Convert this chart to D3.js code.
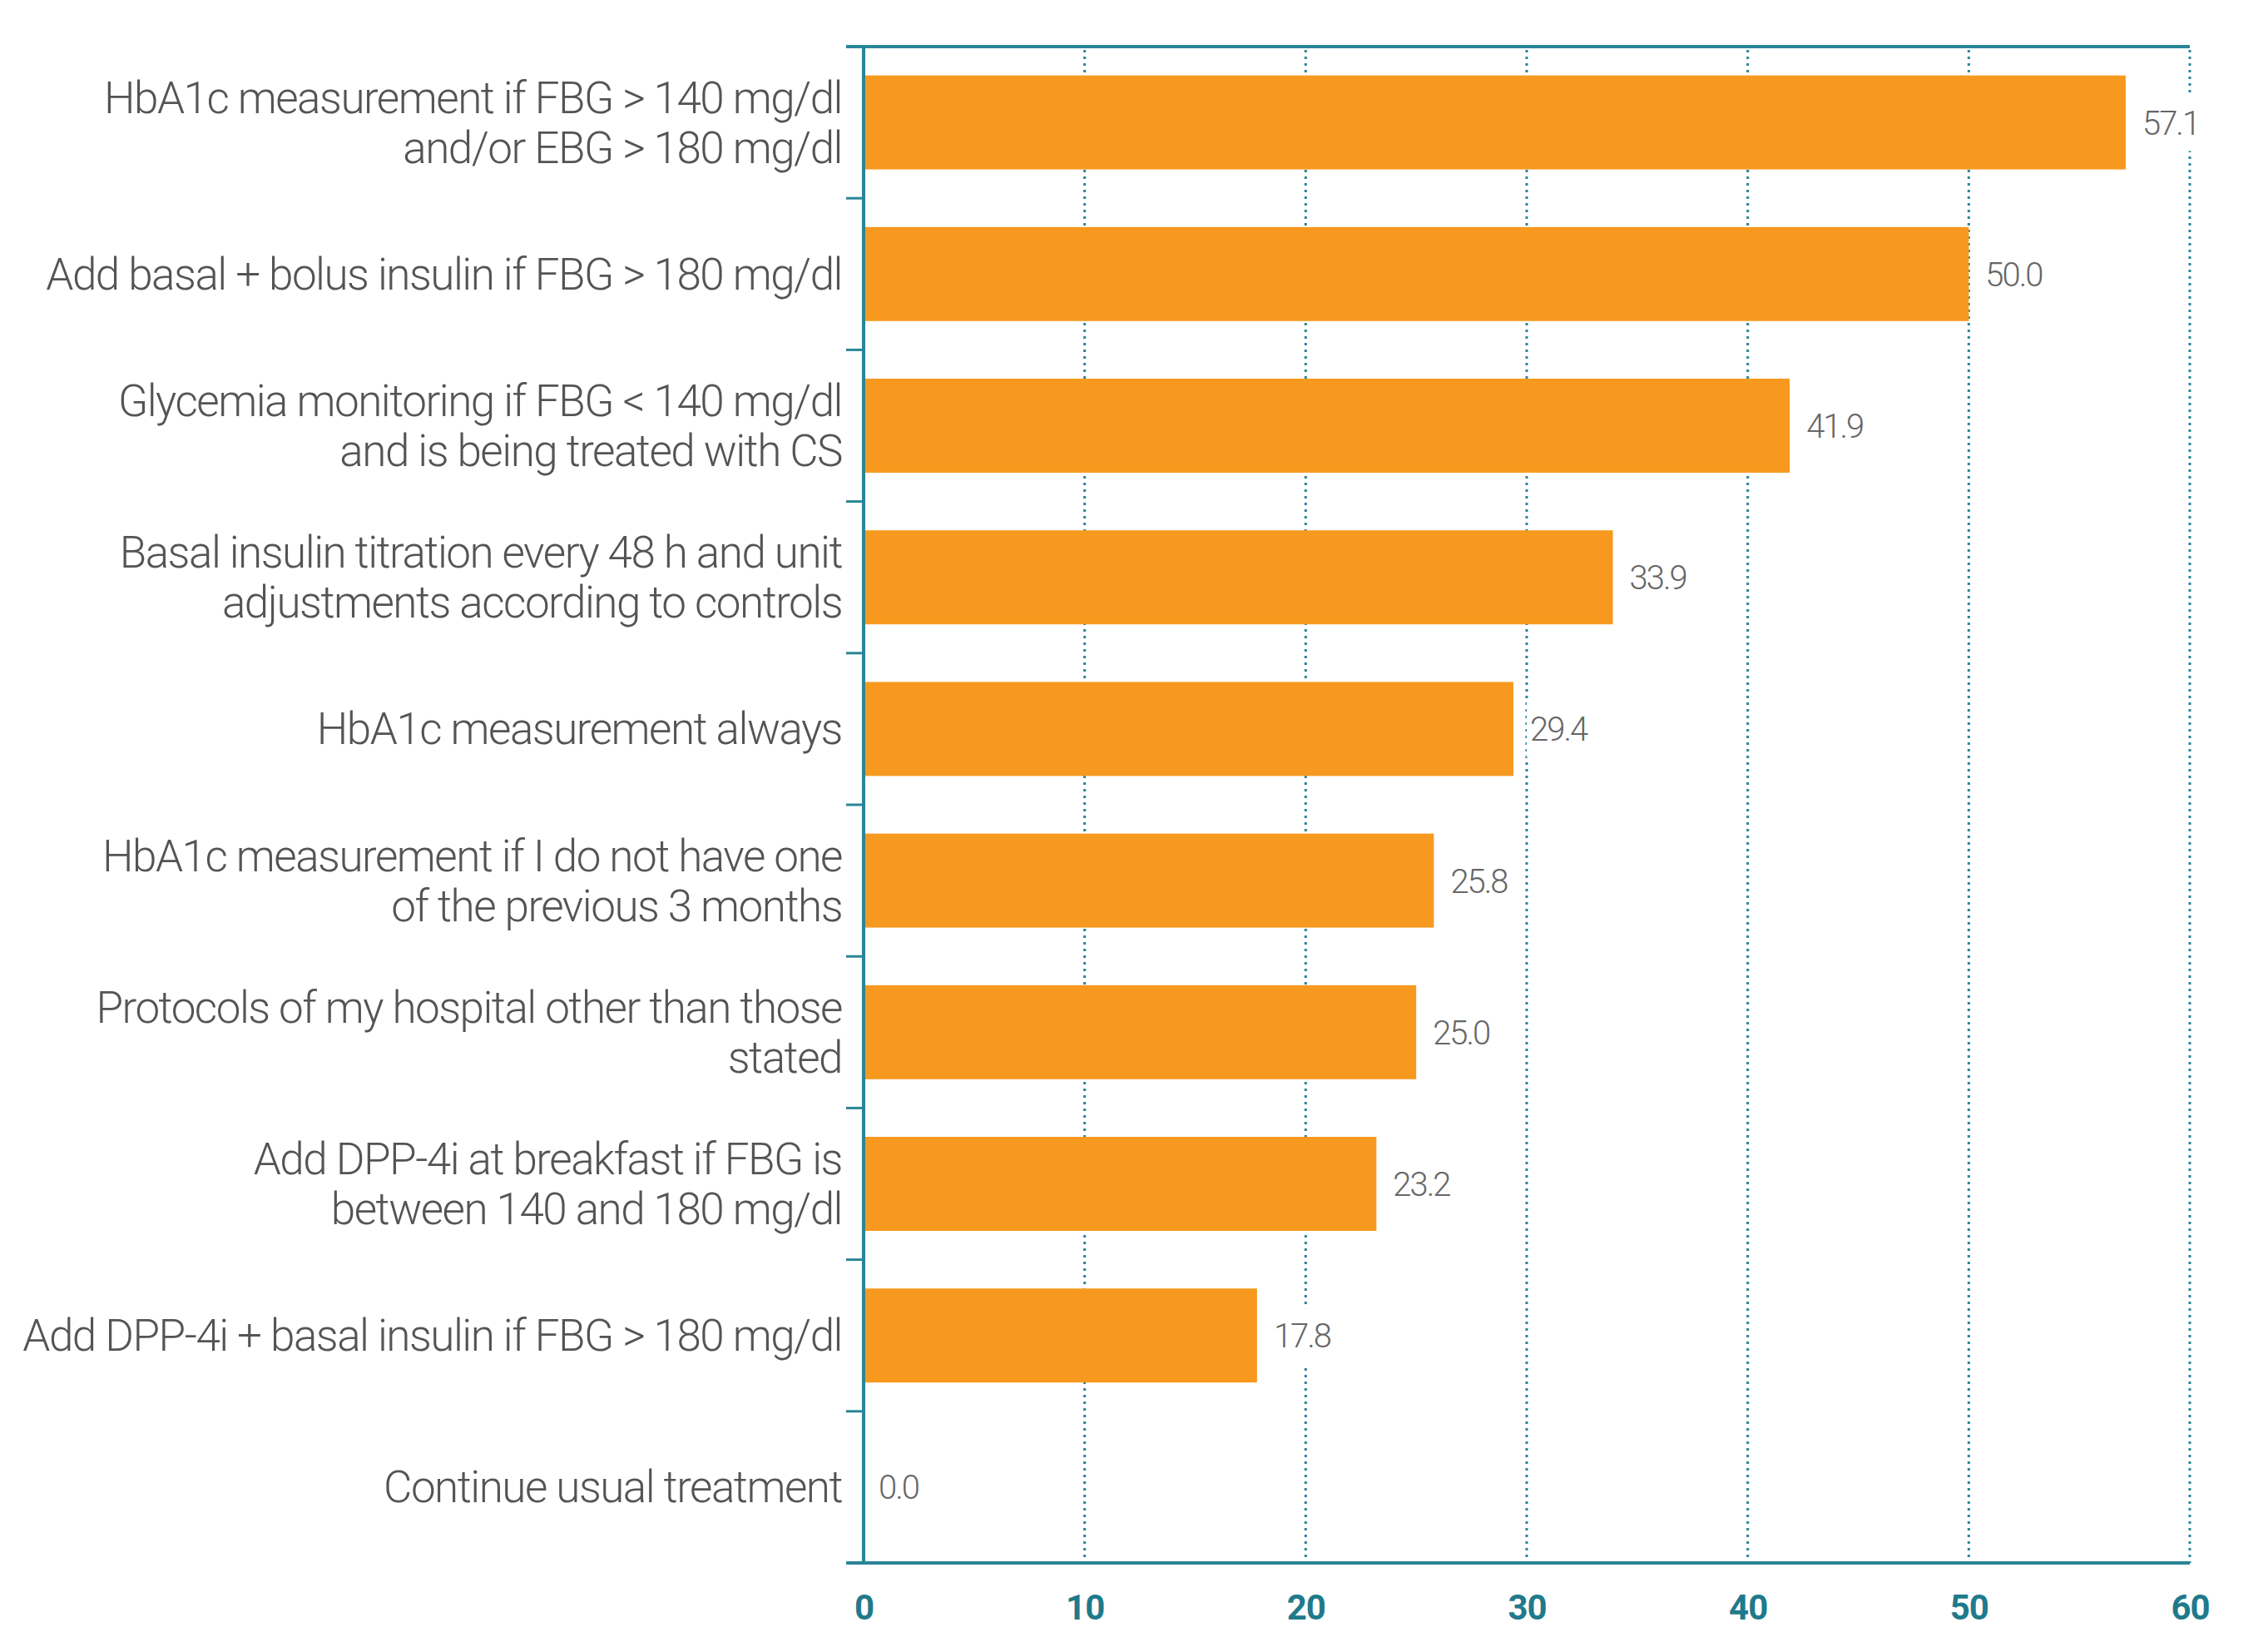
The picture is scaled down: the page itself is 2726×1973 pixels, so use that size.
<!DOCTYPE html>
<html>
<head>
<meta charset="utf-8">
<script src="https://cdn.jsdelivr.net/npm/d3@7"></script>
<style>
  html, body { margin: 0; padding: 0; background: #ffffff; }
  svg { display: block; }
</style>
</head>
<body>
<div id="chart"></div>
<script>
// ---- data ----
const categories = [
  ["HbA1c measurement if FBG > 140 mg/dl", "and/or EBG > 180 mg/dl"],
  ["Add basal + bolus insulin if FBG > 180 mg/dl"],
  ["Glycemia monitoring if FBG < 140 mg/dl", "and is being treated with CS"],
  ["Basal insulin titration every 48 h and unit", "adjustments according to controls"],
  ["HbA1c measurement always"],
  ["HbA1c measurement if I do not have one", "of the previous 3 months"],
  ["Protocols of my hospital other than those", "stated"],
  ["Add DPP-4i at breakfast if FBG is", "between 140 and 180 mg/dl"],
  ["Add DPP-4i + basal insulin if FBG > 180 mg/dl"],
  ["Continue usual treatment"]
];
const values = [57.1, 50.0, 41.9, 33.9, 29.4, 25.8, 25.0, 23.2, 17.8, 0.0];
const xTicks = [0, 10, 20, 30, 40, 50, 60];

// ---- layout ----
const W = 2726, H = 1973;
const mLeft = 1038, mRight = 2632, mTop = 56, mBottom = 1878;
const teal = "#2a8597", tealText = "#1f7a8c", orange = "#f7991f";
const labelColor = "#545454", valueColor = "#666666";

const svg = d3.select("#chart").append("svg").attr("width", W).attr("height", H);

const ids = categories.map((c, i) => i);
const x = d3.scaleLinear().domain([0, 60]).range([mLeft, mRight]);
const y = d3.scaleBand().domain(ids).range([mTop, mBottom]).paddingInner(0.38).paddingOuter(0.19);
const step = y.step();

// grid lines (dotted)
svg.append("g")
  .selectAll("line")
  .data(xTicks.filter(t => t > 0))
  .join("line")
  .attr("x1", d => x(d)).attr("x2", d => x(d))
  .attr("y1", mTop + 4).attr("y2", mBottom)
  .attr("stroke", teal).attr("stroke-width", 3)
  .attr("stroke-dasharray", "3,5");

// bars
svg.append("g")
  .selectAll("rect")
  .data(values)
  .join("rect")
  .attr("x", x(0))
  .attr("y", (d, i) => y(i))
  .attr("width", d => x(d) - x(0))
  .attr("height", y.bandwidth())
  .attr("fill", orange);

// value labels with white background
const vg = svg.append("g")
  .style("font-family", "Roboto, 'Noto Sans', sans-serif")
  .style("font-weight", 300)
  .style("font-size", "40px")
  .style("letter-spacing", "-2px");
const vl = vg.selectAll("g").data(values).join("g");
vl.append("text")
  .attr("x", d => x(d) + (d > 0 ? 20 : 18))
  .attr("y", (d, i) => y(i) + y.bandwidth() / 2)
  .attr("dy", "0.36em")
  .attr("fill", valueColor)
  .text(d => d.toFixed(1));
vl.each(function() {
  const t = d3.select(this).select("text");
  const b = t.node().getBBox();
  d3.select(this).insert("rect", "text")
    .attr("x", b.x - 4).attr("y", b.y - 10)
    .attr("width", b.width + 10).attr("height", b.height + 20)
    .attr("fill", "#ffffff");
});

// category labels
const fs = 53;
const cg = svg.append("g")
  .style("font-family", "Roboto, 'Noto Sans', sans-serif")
  .style("font-weight", 300)
  .style("font-size", fs + "px")
  .style("letter-spacing", "-1.5px")
  .attr("fill", labelColor)
  .attr("text-anchor", "end");
const lineH = 60;
cg.selectAll("text")
  .data(categories)
  .join("text")
  .attr("x", mLeft - 26)
  .attr("y", (d, i) => y(i) + y.bandwidth() / 2)
  .each(function(lines) {
    const t = d3.select(this);
    const n = lines.length;
    lines.forEach((ln, k) => {
      t.append("tspan")
        .attr("x", mLeft - 26)
        .attr("dy", k === 0 ? ((-(n - 1) / 2) * lineH / fs + 0.35) + "em" : (lineH / fs) + "em")
        .text(ln);
    });
  });

// axes lines
const ax = svg.append("g").attr("stroke", teal).attr("stroke-width", 4).attr("stroke-linecap", "butt");
ax.append("line").attr("x1", mLeft - 21).attr("x2", mRight).attr("y1", mTop).attr("y2", mTop);
ax.append("line").attr("x1", mLeft - 21).attr("x2", mRight).attr("y1", mBottom).attr("y2", mBottom);
ax.append("line").attr("x1", mLeft).attr("x2", mLeft).attr("y1", mTop - 2).attr("y2", mBottom + 2);
// category boundary ticks
ax.selectAll("line.tk")
  .data(ids.slice(1))
  .join("line")
  .attr("class", "tk")
  .attr("x1", mLeft - 21).attr("x2", mLeft)
  .attr("y1", d => y(d) - step * 0.19)
  .attr("y2", d => y(d) - step * 0.19)
  .attr("stroke-width", 3);

// x axis tick labels
const xAxis = d3.axisBottom(x).tickValues(xTicks).tickSize(0).tickPadding(38).tickFormat(d3.format("d"));
const xg = svg.append("g").attr("transform", `translate(0,${mBottom})`).call(xAxis);
xg.select(".domain").remove();
xg.selectAll("text")
  .style("font-family", "Roboto, 'Noto Sans', sans-serif")
  .style("font-weight", 700)
  .style("font-size", "42px")
  .style("letter-spacing", "-1px")
  .attr("fill", tealText);
</script>
</body>
</html>
